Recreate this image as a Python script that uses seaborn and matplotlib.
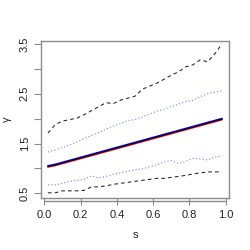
import numpy as np
import pandas as pd
import matplotlib
matplotlib.use("Agg")
import matplotlib.pyplot as plt
import matplotlib.transforms as mtransforms
import seaborn as sns

s = [0.02, 0.06, 0.10, 0.14, 0.18, 0.22, 0.26, 0.30, 0.34, 0.38, 0.42, 0.46, 0.50,
     0.54, 0.58, 0.62, 0.66, 0.70, 0.74, 0.78, 0.82, 0.86, 0.90, 0.94, 0.98]

upper_dashed = [1.71, 1.88, 1.95, 1.98, 2.01, 2.08, 2.16, 2.24, 2.32, 2.30, 2.37, 2.41, 2.45,
                2.59, 2.65, 2.71, 2.79, 2.87, 2.94, 3.04, 3.08, 3.18, 3.14, 3.30, 3.50]
upper_dotted = [1.33, 1.37, 1.42, 1.47, 1.53, 1.60, 1.66, 1.72, 1.79, 1.85, 1.90, 1.96, 1.98,
                2.03, 2.09, 2.15, 2.19, 2.24, 2.29, 2.34, 2.37, 2.44, 2.50, 2.53, 2.56]
black_solid = [1.04, 1.07, 1.11, 1.15, 1.19, 1.23, 1.27, 1.31, 1.35, 1.39, 1.43, 1.47, 1.51,
               1.55, 1.59, 1.63, 1.67, 1.71, 1.75, 1.79, 1.83, 1.87, 1.91, 1.95, 1.99]
blue_solid = [1.05, 1.08, 1.12, 1.16, 1.20, 1.24, 1.28, 1.32, 1.36, 1.40, 1.44, 1.48, 1.52,
              1.56, 1.60, 1.64, 1.68, 1.72, 1.76, 1.80, 1.84, 1.88, 1.92, 1.96, 2.00]
red_solid = [1.03, 1.06, 1.10, 1.14, 1.18, 1.22, 1.26, 1.30, 1.34, 1.38, 1.42, 1.46, 1.50,
             1.54, 1.58, 1.62, 1.66, 1.70, 1.74, 1.78, 1.82, 1.86, 1.90, 1.94, 1.98]
lower_dotted = [0.67, 0.67, 0.70, 0.74, 0.76, 0.78, 0.85, 0.81, 0.84, 0.88, 0.91, 0.94, 0.97,
                0.99, 1.03, 1.07, 1.13, 1.16, 1.10, 1.14, 1.20, 1.19, 1.17, 1.23, 1.25]
lower_dashed = [0.51, 0.51, 0.55, 0.55, 0.55, 0.56, 0.63, 0.63, 0.65, 0.68, 0.70, 0.72, 0.74,
                0.76, 0.78, 0.80, 0.80, 0.82, 0.84, 0.86, 0.89, 0.91, 0.93, 0.93, 0.93]

x_ticks = [0.0, 0.2, 0.4, 0.6, 0.8, 1.0]
y_ticks = [0.5, 1.0, 1.5, 2.0, 2.5, 3.0, 3.5]
y_labels = ["0.5", "", "1.5", "", "2.5", "", "3.5"]

sns.set_style("white")
plt.rcParams['font.family'] = ['Liberation Sans', 'DejaVu Sans']

fig = plt.figure(figsize=(2.5, 2.5), dpi=100)
ax = fig.add_axes([0.164, 0.208, 0.752, 0.628])

gray = "#8c8c8c"
sns.lineplot(x=s, y=upper_dashed, ax=ax, color="#222222", lw=0.75)
ax.lines[-1].set_dashes([3.5, 3])
sns.lineplot(x=s, y=lower_dashed, ax=ax, color="#222222", lw=0.75)
ax.lines[-1].set_dashes([3.5, 3])
sns.lineplot(x=s, y=upper_dotted, ax=ax, color="#7a7aff", lw=0.8)
ax.lines[-1].set_dashes([1, 2])
sns.lineplot(x=s, y=lower_dotted, ax=ax, color="#7a7aff", lw=0.8)
ax.lines[-1].set_dashes([1, 2])
sns.lineplot(x=s, y=red_solid, ax=ax, color="red", lw=1.3)
sns.lineplot(x=s, y=blue_solid, ax=ax, color="blue", lw=1.3)
sns.lineplot(x=s, y=black_solid, ax=ax, color="black", lw=0.7)

ax.set_xlim(-0.0184, 1.0184)
ax.set_ylim(0.406, 3.558)
ax.set_xticks(x_ticks)
ax.set_xticklabels(["0.0", "0.2", "0.4", "0.6", "0.8", "1.0"])
ax.set_yticks(y_ticks)
ax.set_yticklabels(y_labels, rotation=90, va="center")

for sp in ax.spines.values():
    sp.set_visible(True)
    sp.set_color(gray)
    sp.set_linewidth(1.0)

ax.tick_params(axis="both", direction="out", length=5, width=0.8, color=gray,
               labelsize=8, labelcolor="#222222", bottom=True, left=True)
ax.tick_params(axis="x", pad=4)
ax.tick_params(axis="y", pad=3)

trans = mtransforms.blended_transform_factory(ax.transData, ax.transAxes)
ax.plot([0, 1], [-0.018, -0.018], transform=trans, color=gray, lw=1.0, clip_on=False)

ax.set_xlabel("s", fontsize=8, color="#222222", labelpad=7)
ax.set_ylabel("γ", fontsize=8, color="#222222", labelpad=6)

fig.savefig("out.png", dpi=100)
